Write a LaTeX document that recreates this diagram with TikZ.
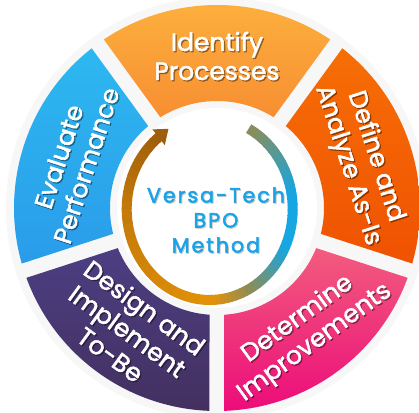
\documentclass[tikz,border=0pt]{standalone}
\usepackage{fontspec}
\setmainfont{Poppins}
\newfontfamily\segfont[FakeBold=2]{Poppins}
\newfontfamily\midfont[LetterSpace=10,FakeBold=2.5]{Poppins}
\usetikzlibrary{calc}

\definecolor{idA}{RGB}{253,178,62}
\definecolor{idB}{RGB}{247,142,50}
\definecolor{dfA}{RGB}{246,110,6}
\definecolor{dfB}{RGB}{240,82,2}
\definecolor{dtA}{RGB}{242,92,126}
\definecolor{dtB}{RGB}{236,12,122}
\definecolor{dsA}{RGB}{76,62,130}
\definecolor{dsB}{RGB}{67,48,96}
\definecolor{evA}{RGB}{45,184,240}
\definecolor{evB}{RGB}{42,156,234}
\definecolor{midblue}{RGB}{26,163,230}
\definecolor{rOl}{RGB}{143,140,84}
\definecolor{rBl}{RGB}{22,166,225}
\definecolor{rOr}{RGB}{228,146,8}
\definecolor{rBrA}{RGB}{196,121,10}
\definecolor{rBrB}{RGB}{158,94,10}

\newcommand{\seglabel}[4]{%
  \node[segshad,rotate=#3] (#1s) at ($(#2)+(1.3,-1.3)$) {#4};
  \node[seglab,rotate=#3] (#1) at (#2) {#4};
}

\begin{document}
\begin{tikzpicture}[x=1pt,y=1pt,
  seglab/.style={text=white,align=center,font=\segfont\fontsize{25}{29}\selectfont},
  segshad/.style={seglab,text=black,opacity=0.35},
  ringseg/.style={line width=10pt},
  midtext/.style={text=midblue,align=center,font=\midfont\fontsize{20.5}{25}\selectfont}]
%
\def\Rout{203};
\def\Rin{107};
\def\dout{2.12};
\def\din{4.02};
\def\rl{152};
%
\useasboundingbox (-217,-204) rectangle (202,208);
\coordinate (O) at (0,0);
\coordinate (C) at (-7.3,-1);
%
\fill[black!3] (O) circle (211);
%
% segments
\foreach \a/\ca/\cb in {54/idA/idB,126/evA/evB,198/dsA/dsB,270/dtA/dtB,342/dfA/dfB}{
  \pgfmathsetmacro\b{\a+72}
  \path[top color=\ca,bottom color=\cb]
    ({\a+\dout}:\Rout) arc[start angle=\a+\dout,end angle=\b-\dout,radius=\Rout]
    -- ({\b-\din}:\Rin) arc[start angle=\b-\din,end angle=\a+\din,radius=\Rin] -- cycle;
}
\fill[white] (O) circle (100);
%
% ring with colour run
\foreach \sa/\ea/\ca/\cb in {62/10/rOl/rBl,10/-25/rBl/rBl,-25/-62/rBl/rOl,-62/-88/rOl/rOr,-88/-180/rOr/rBrA,-180/-232/rBrA/rBrB}{
  \foreach \i in {0,...,9}{
    \pgfmathsetmacro\pa{\sa+(\ea-\sa)*\i/10}
    \pgfmathsetmacro\pb{\sa+(\ea-\sa)*(\i+1)/10-0.5}
    \pgfmathtruncatemacro\pc{\i*10+5}
    \draw[ringseg,draw=\cb!\pc!\ca] ($(C)+(\pa:83 and 91)$)
      arc[start angle=\pa,end angle=\pb,x radius=83,y radius=91];
  }
}
\coordinate (T1) at ($(C)+(128:93 and 101)$);
\coordinate (T2) at ($(C)+(128:73 and 81)$);
\coordinate (T3) at ($(C)+(128:83 and 91)+(40.6:13)$);
\fill[rBrB] (T1) -- (T3) -- (T2) -- cycle;
%
% texts
\seglabel{idf}{90:\rl}{0}{Identify\\Processes}
\seglabel{dfn}{18:\rl}{-72}{Define and\\Analyze As-Is}
\seglabel{dtm}{-54:\rl}{36}{Determine\\Improvements}
\seglabel{dsg}{234:\rl}{-36}{Design and\\Implement\\To-Be}
\seglabel{evl}{162:\rl}{72}{Evaluate\\Performance}
%
\node[midtext,text=black,opacity=0.15] (bpos) at (0,-13) {Versa-Tech\\BPO\\Method};
\node[midtext] (bpo) at (-1,-12) {Versa-Tech\\BPO\\Method};
%
\end{tikzpicture}
\end{document}
